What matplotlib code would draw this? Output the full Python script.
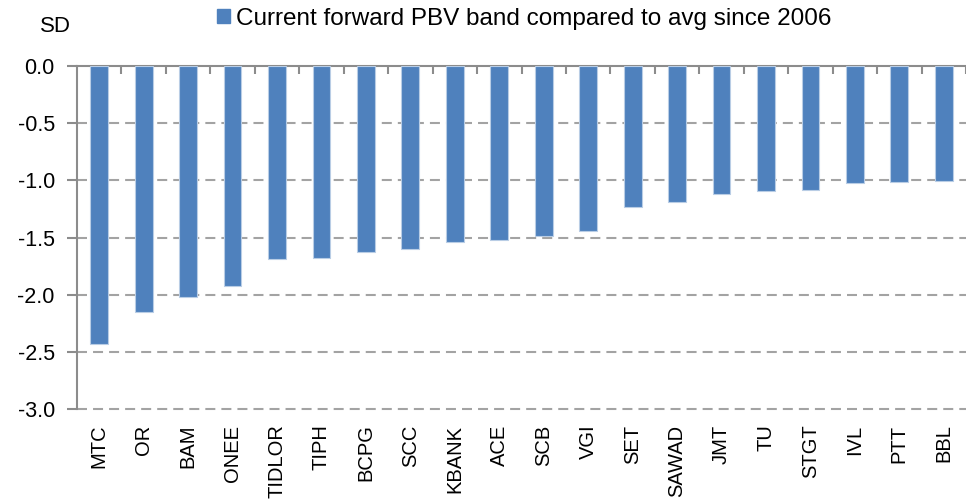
import matplotlib
matplotlib.use("Agg")
import matplotlib.pyplot as plt
from matplotlib.patches import Patch
from matplotlib.ticker import FixedLocator

plt.rcParams['font.family'] = ['Liberation Sans', 'DejaVu Sans']

categories = ["MTC", "OR", "BAM", "ONEE", "TIDLOR", "TIPH", "BCPG", "SCC", "KBANK", "ACE",
              "SCB", "VGI", "SET", "SAWAD", "JMT", "TU", "STGT", "IVL", "PTT", "BBL"]
values = [-2.43, -2.15, -2.02, -1.92, -1.69, -1.68, -1.63, -1.60, -1.54, -1.52,
          -1.49, -1.445, -1.235, -1.19, -1.12, -1.095, -1.085, -1.02, -1.015, -1.005]
yticks = [0.0, -0.5, -1.0, -1.5, -2.0, -2.5, -3.0]
series_name = "Current forward PBV band compared to avg since 2006"

W, H = 966, 504
fig = plt.figure(figsize=(W/100, H/100), dpi=100)
left, right, top, bottom = 77, 966, 65.7, 409.3
ax = fig.add_axes([left/W, 1 - bottom/H, (right-left)/W, (bottom-top)/H])

bar_color = "#4F81BD"
x = list(range(len(categories)))
ax.bar(x, values, width=0.4, color=bar_color, edgecolor="#B9CDE5", linewidth=0.8, zorder=3)

ax.set_xlim(-0.5, len(categories) - 0.5)
ax.set_ylim(-3.0, 0.0)

gray = "#8C8C8C"
for s in ["right", "bottom"]:
    ax.spines[s].set_visible(False)
ax.spines["left"].set_color(gray)
ax.spines["left"].set_linewidth(1.5)
ax.spines["top"].set_color(gray)
ax.spines["top"].set_linewidth(1.5)

# horizontal gridlines
for yv in yticks[1:]:
    ax.axhline(yv, color="#A3A3A3", linewidth=1.5, linestyle=(0, (4.8, 2.9)), zorder=1, clip_on=False)

ax.set_yticks(yticks)
ax.set_yticklabels([f"{v:.1f}" for v in yticks])
ax.tick_params(axis="y", direction="out", length=7, width=1.5, color=gray,
               labelsize=15.5, pad=9, labelcolor="black")

ax.set_xticks(x)
ax.set_xticklabels(categories, rotation=90, fontsize=14.5, va="top", ha="center")
ax.tick_params(axis="x", which="major", length=0, pad=11)
ax.xaxis.set_minor_locator(FixedLocator([i + 0.5 for i in range(len(categories))]))
ax.tick_params(axis="x", which="minor", top=True, bottom=False, direction="in",
               length=6, width=1.5, color=gray)

fig.text(55/W, 1 - 26/H, "SD", fontsize=16, ha="center", va="center")

handle = Patch(facecolor=bar_color, edgecolor=bar_color)
fig.legend(handles=[handle], labels=[series_name], loc="center left",
           bbox_to_anchor=(217/W, 1 - 18.5/H), frameon=False, fontsize=17.5,
           handlelength=0.53, handleheight=0.5, handletextpad=0.25,
           borderpad=0, borderaxespad=0)

fig.savefig("out.png", dpi=100)
